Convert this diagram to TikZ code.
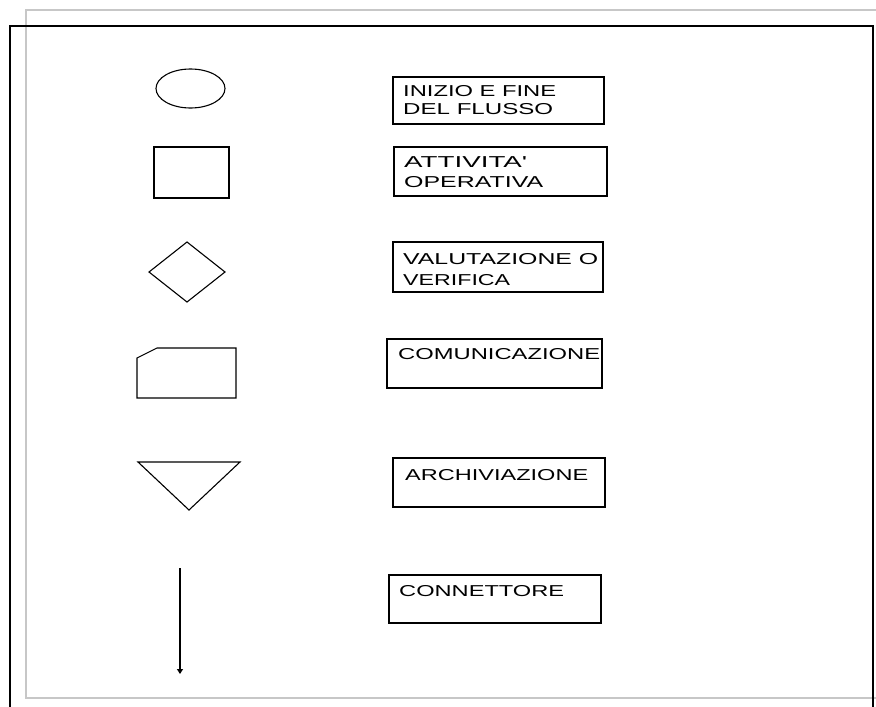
\documentclass[tikz,border=0pt]{standalone}
\usepackage{fontspec}
\usepackage{graphicx}
\newfontfamily\labfont{Liberation Sans}
\newcommand{\fitw}[2]{\resizebox{#1}{\height}{#2}}
\usetikzlibrary{arrows.meta,shapes.geometric}
\begin{document}
\begin{tikzpicture}[x=1pt,y=-1pt,
  shapeline/.style={draw=black,line width=1.1pt},
  labelbox/.style={draw=black,line width=1.1pt,inner sep=0pt},
  labeltext/.style={anchor=base west,inner sep=0pt,font=\labfont\fontsize{15.8}{18}\selectfont},
  connline/.style={line width=1.3pt,-{Triangle[width=6pt,length=5pt]}}]
\useasboundingbox (0,0) rectangle (876,707);
% frames
\draw[color=black!22,line width=2pt] (880,10) -- (26,10) -- (26,698) -- (880,698);
\draw[black,line width=1.6pt] (10,712) -- (10,26) -- (873,26) -- (873,712);
% symbols
\node[shapeline,ellipse,minimum width=69pt,minimum height=39pt,inner sep=0pt] (ell) at (190.5,88.5) {};
\node[shapeline,rectangle,minimum width=75pt,minimum height=51pt,inner sep=0pt] (rect) at (191.5,172.5) {};
\draw[shapeline] (187,242) -- (225,272) -- (187,302) -- (149,272) -- cycle;
\coordinate (dia) at (187,272);
\draw[shapeline] (157,348) -- (236,348) -- (236,398) -- (137,398) -- (137,358) -- cycle;
\coordinate (comm) at (186,373);
\draw[shapeline] (138,462) -- (240,462) -- (189,510) -- cycle;
\coordinate (arch) at (189,478);
\coordinate (conntop) at (180,568);
\coordinate (connbot) at (180,674);
\draw[connline] (conntop) -- (connbot);
% label boxes
\node[labelbox,minimum width=211pt,minimum height=47pt] (b1) at (498.5,100.5) {};
\node[labelbox,minimum width=213pt,minimum height=49pt] (b2) at (500.5,171.5) {};
\node[labelbox,minimum width=210pt,minimum height=50pt] (b3) at (498,267) {};
\node[labelbox,minimum width=215pt,minimum height=49pt] (b4) at (494.5,363.5) {};
\node[labelbox,minimum width=212pt,minimum height=49pt] (b5) at (499,482.5) {};
\node[labelbox,minimum width=212pt,minimum height=48pt] (b6) at (495,599) {};
% label texts
\node[labeltext] (t1a) at (403,96.8) {\fitw{153pt}{INIZIO E FINE}};
\node[labeltext] (t1b) at (403,114.5) {\fitw{150pt}{DEL FLUSSO}};
\node[labeltext] (t2a) at (404,167.5) {\fitw{123pt}{ATTIVITA'}};
\node[labeltext] (t2b) at (404,187) {\fitw{139pt}{OPERATIVA}};
\node[labeltext] (t3a) at (403,264) {\fitw{195pt}{VALUTAZIONE O}};
\node[labeltext] (t3b) at (403,285.5) {\fitw{107pt}{VERIFICA}};
\node[labeltext] (t4) at (398,359) {\fitw{202pt}{COMUNICAZIONE}};
\node[labeltext] (t5) at (405,480) {\fitw{183pt}{ARCHIVIAZIONE}};
\node[labeltext] (t6) at (399,596) {\fitw{165pt}{CONNETTORE}};
\end{tikzpicture}
\end{document}
